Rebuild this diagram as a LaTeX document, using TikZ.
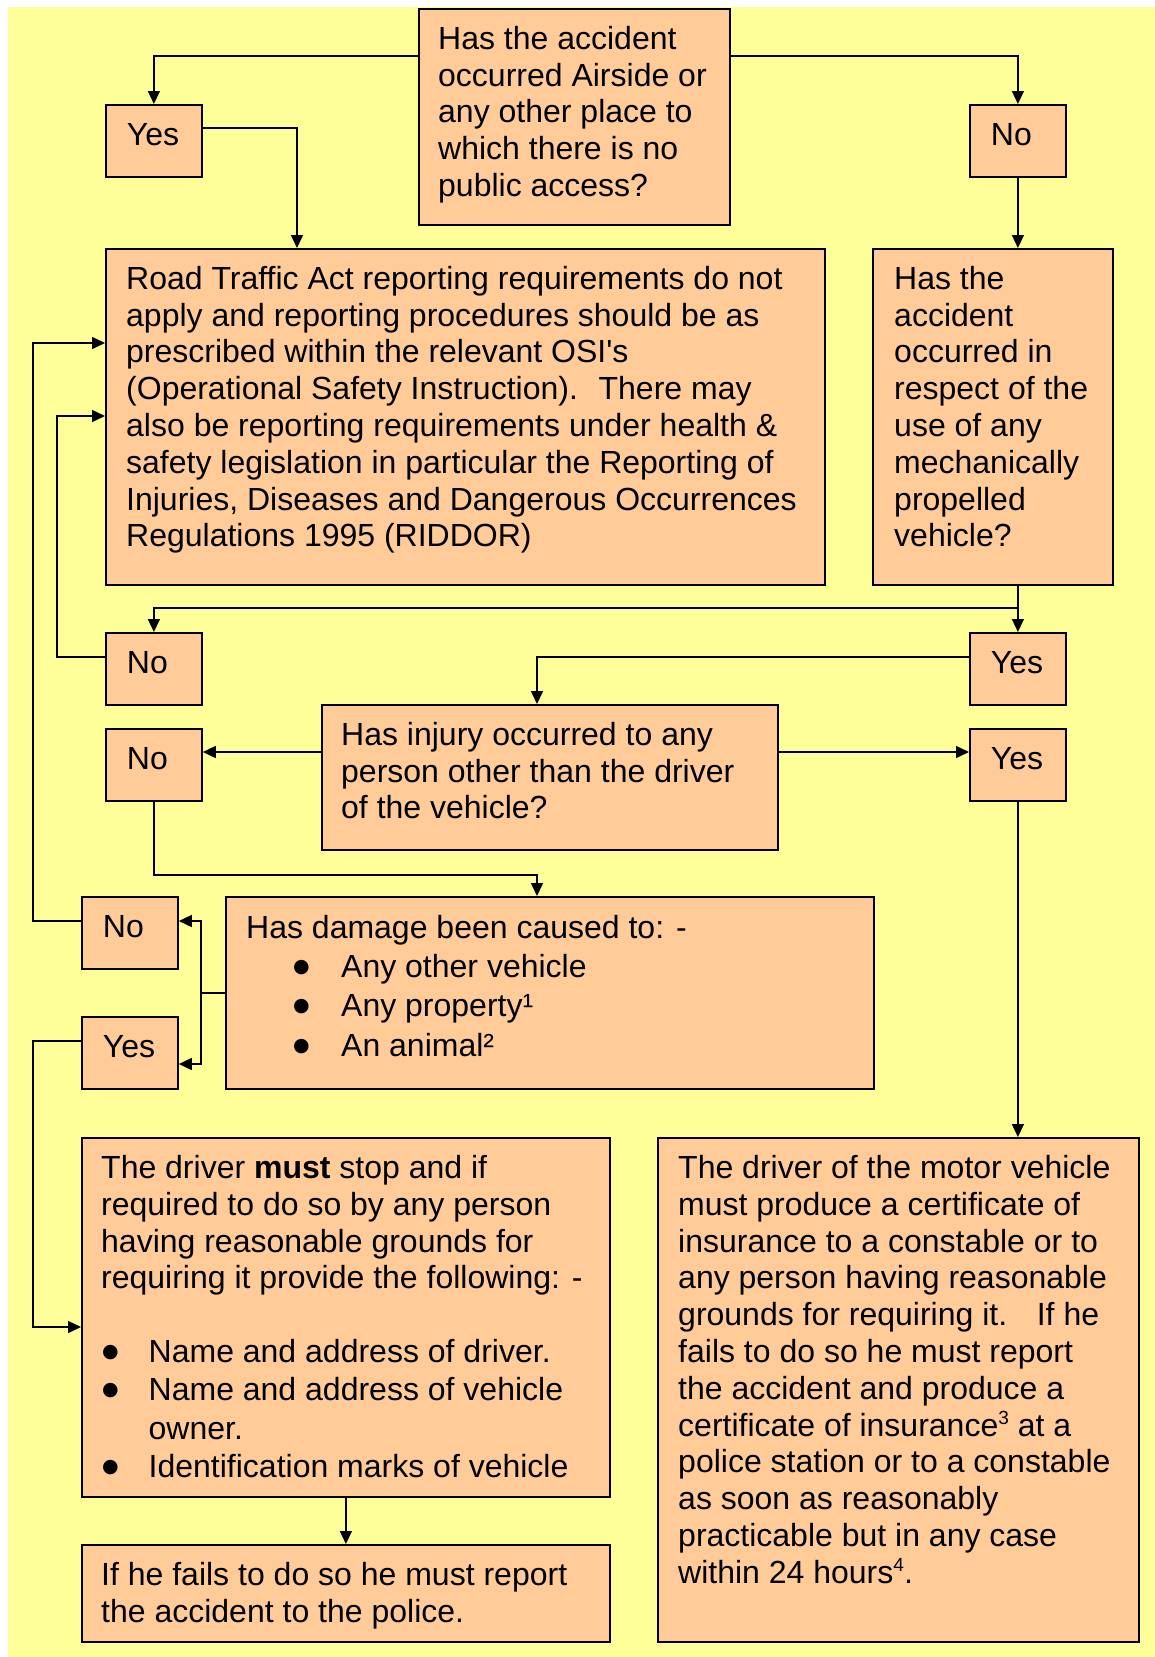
\documentclass[tikz,border=0pt]{standalone}
\usepackage{fontspec}
\setmainfont{Liberation Sans}
\newfontfamily\bulfont{DejaVu Sans}
\usetikzlibrary{arrows.meta,positioning}

\definecolor{bgyellow}{HTML}{FFFF99}
\definecolor{boxorange}{HTML}{FFCC99}

\newcommand{\blt}[1]{\makebox[#1][l]{\raisebox{5pt}{\bulfont\fontsize{19}{19}\selectfont ●}}}
\newcommand{\sups}[1]{\raisebox{12pt}{\fontsize{19}{0}\selectfont #1}}
\lineskiplimit=-20pt

\begin{document}
\begin{tikzpicture}[
    x=1pt, y=-1pt,
    font=\fontsize{32}{36.8}\selectfont,
    box/.style={draw, line width=1.8pt, fill=boxorange, anchor=north west, inner sep=0pt},
    yn/.style={box, text width=54pt, inner xsep=21pt, align=left, text height=41pt, text depth=31pt},
    txt/.style={anchor=north west, inner sep=0pt, align=left},
    arrow/.style={-{Triangle[length=13pt,width=12pt]}, line width=1.5pt},
    link/.style={line width=1.5pt}
]
    \useasboundingbox (0,0) rectangle (1155,1657);
    \fill[bgyellow] (8,7) rectangle (1155,1657);

    % first question
    \node[box, minimum width=311pt, minimum height=216pt] (q1) at (418,8) {};
    \node[txt, below right=18pt and 20pt of q1.north west] (q1t) {Has the accident\\
        occurred Airside or\\
        any other place to\\
        which there is no\\
        public access?};
    \node[yn] (yesA) at (105,104) {Yes};
    \node[yn] (noA) at (969,104) {No};

    \node[box, minimum width=719pt, minimum height=336pt] (rta) at (105,248) {};
    \node[txt, below right=18pt and 21pt of rta.north west] (rtat) {Road Traffic Act reporting requirements do not\\
        apply and reporting procedures should be as\\
        prescribed within the relevant OSI\textquotesingle s\\
        (Operational Safety Instruction).~ There may\\
        also be reporting requirements under health \&\\
        safety legislation in particular the Reporting of\\
        Injuries, Diseases and Dangerous Occurrences\\
        Regulations 1995 (RIDDOR)};
    \node[box, minimum width=240pt, minimum height=336pt] (veh) at (872,248) {};
    \node[txt, below right=18pt and 22pt of veh.north west] (veht) {Has the\\
        accident\\
        occurred in\\
        respect of the\\
        use of any\\
        mechanically\\
        propelled\\
        vehicle?};

    \node[yn] (noB) at (105,632) {No};
    \node[yn] (yesB) at (969,632) {Yes};

    % injury
    \node[box, minimum width=456pt, minimum height=145pt] (inj) at (321,704) {};
    \node[txt, below right=18pt and 20pt of inj.north west] (injt) {Has injury occurred to any\\
        person other than the driver\\
        of the vehicle?};
    \node[yn] (noC) at (105,728) {No};
    \node[yn] (yesC) at (969,728) {Yes};

    % damage
    \node[box, minimum width=648pt, minimum height=192pt] (dmg) at (225,896) {};
    \node[txt, below right=19pt and 21pt of dmg.north west] (dmgt) {Has damage been caused to: -\\[2.4pt]
        \hspace*{47pt}\blt{48pt}Any other vehicle\\[2.4pt]
        \hspace*{47pt}\blt{48pt}Any property¹\\[2.4pt]
        \hspace*{47pt}\blt{48pt}An animal²};
    \node[yn] (noD) at (81,896) {No};
    \node[yn] (yesD) at (81,1016) {Yes};

    % outcomes
    \node[box, minimum width=528pt, minimum height=359pt] (drv) at (81,1137) {};
    \node[txt, below right=18pt and 20pt of drv.north west] (drvt) {The driver \textbf{must} stop and if\\
        required to do so by any person\\
        having reasonable grounds for\\
        requiring it provide the following: -\\[36.8pt]
        \hspace*{1pt}\blt{46.5pt}Name and address of driver.\\[1.6pt]
        \hspace*{1pt}\blt{46.5pt}Name and address of vehicle\\[1.6pt]
        \hspace*{47.5pt}owner.\\[1.6pt]
        \hspace*{1pt}\blt{46.5pt}Identification marks of vehicle};
    \node[box, minimum width=528pt, minimum height=97pt] (pol) at (81,1544) {};
    \node[txt, below right=18pt and 20pt of pol.north west] (polt) {If he fails to do so he must report\\
        the accident to the police.};
    \node[box, minimum width=481pt, minimum height=504pt] (ins) at (657,1137) {};
    \node[txt, below right=18pt and 21pt of ins.north west] (inst) {The driver of the motor vehicle\\
        must produce a certificate of\\
        insurance to a constable or to\\
        any person having reasonable\\
        grounds for requiring it.~~ If he\\
        fails to do so he must report\\
        the accident and produce a\\
        certificate of insurance\sups{3} at a\\
        police station or to a constable\\
        as soon as reasonably\\
        practicable but in any case\\
        within 24 hours\sups{4}.};

    % connectors
    \draw[arrow] ([yshift=-48pt]q1.north west) -| (yesA);
    \draw[arrow] ([yshift=-48pt]q1.north east) -| (noA);
    \draw[arrow] ([yshift=-24pt]yesA.north east) -| ([xshift=192pt]rta.north west);
    \draw[arrow] (noA) -- (noA |- veh.north);

    \draw[arrow] (veh.south -| yesB) -- (yesB);
    \coordinate (vsplit) at (1017,608);
    \draw[arrow] (vsplit) -| (noB);
    \draw[arrow] ([yshift=-25pt]noB.north west) -- ++(-48,0) |- ([yshift=-168pt]rta.north west);
    \draw[arrow] ([yshift=-25pt]yesB.north west) -| ([xshift=216pt]inj.north west);

    \draw[arrow] ([yshift=-48pt]inj.north west) -- ([yshift=-24pt]noC.north east);
    \draw[arrow] ([yshift=-48pt]inj.north east) -- ([yshift=-24pt]yesC.north west);
    \draw[arrow] (noC.south) -- ++(0,73) -| ([xshift=312pt]dmg.north west);
    \draw[arrow] (yesC) -- (yesC |- ins.north);

    \draw[link] (dmg.west) -- ++(-24,0) coordinate (dfork);
    \draw[arrow] (dfork) |- ([yshift=-25pt]noD.north east);
    \draw[arrow] (dfork) |- ([yshift=-48pt]yesD.north east);
    \draw[arrow] ([yshift=-25pt]noD.north west) -- ++(-48,0) |- ([yshift=-95pt]rta.north west);
    \draw[arrow] ([yshift=-25pt]yesD.north west) -- ++(-48,0) |- ([yshift=-190pt]drv.north west);
    \draw[arrow] (drv) -- (pol);
\end{tikzpicture}
\end{document}
